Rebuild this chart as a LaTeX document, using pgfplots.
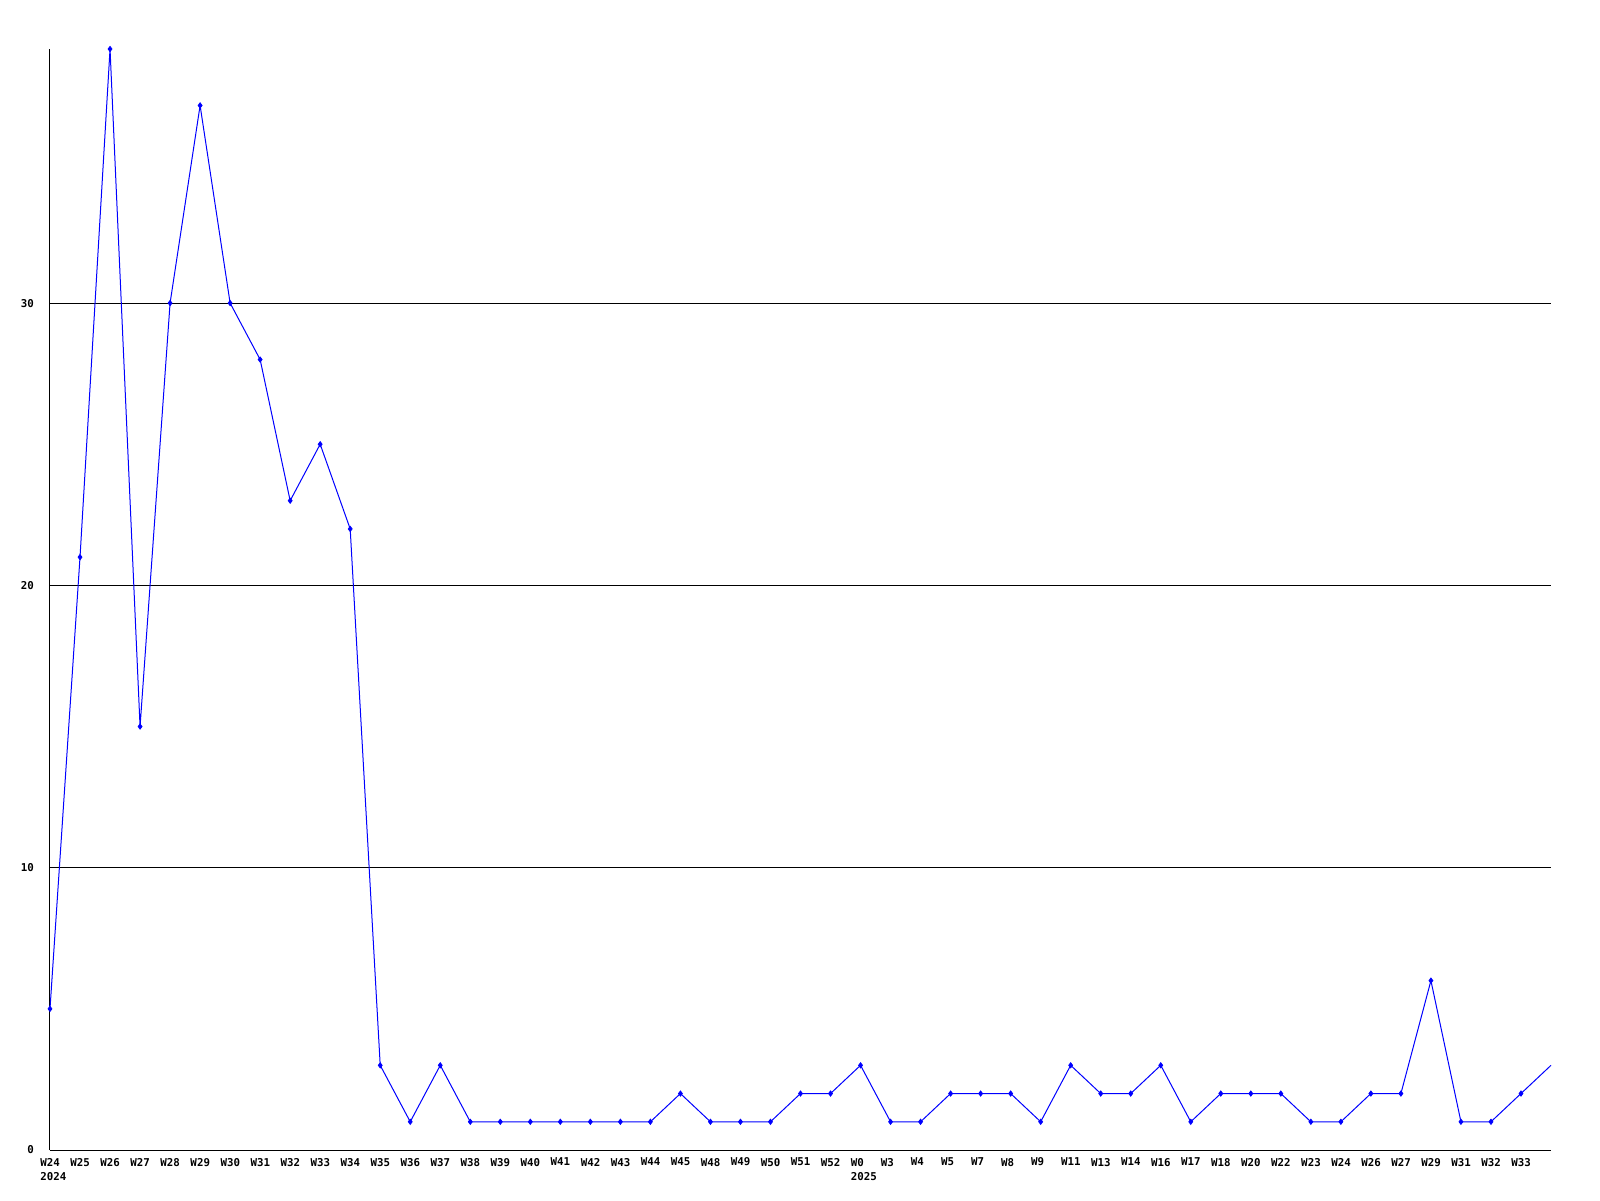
\documentclass[border=0pt]{standalone}
\usepackage{fontspec}
\setmonofont{DejaVu Sans Mono}
\usepackage{pgfplots}
\pgfplotsset{compat=1.18}
\begin{document}
\begin{tikzpicture}
\useasboundingbox (0,0) rectangle (800pt,600pt);
\begin{axis}[
  at={(25pt,25pt)}, anchor=south west,
  scale only axis, width=750.5pt, height=550.5pt,
  xmin=0, xmax=50, ymin=0, ymax=39,
  axis lines*=left,
  axis line style={black, line width=0.5pt, -},
  xtick={0,...,49},
  xticklabels={{W24\\\rlap{2024}},W25,W26,W27,W28,W29,W30,W31,W32,W33,W34,W35,W36,W37,W38,W39,W40,W41,W42,W43,W44,W45,W48,W49,W50,W51,W52,{W0\\\rlap{2025}},W3,W4,W5,W7,W8,W9,W11,W13,W14,W16,W17,W18,W20,W22,W23,W24,W26,W27,W29,W31,W32,W33},
  ytick={0,10,20,30},
  ymajorgrids,
  grid style={black, line width=0.5pt},
  major tick length=0pt,
  tick label style={font=\ttfamily\bfseries\fontsize{5.4}{7.4}\selectfont},
  xticklabel style={align=left, anchor=north west, xshift=-5pt, yshift=-3.8pt, inner sep=0pt},
  yticklabel style={anchor=east, xshift=-4.5pt},
  /pgf/number format/assume math mode=true,
  clip=false,
]
\addplot[color={rgb,255:red,0;green,0;blue,255}, line width=0.5pt, mark=none] coordinates {
(0,5)(1,21)(2,39)(3,15)(4,30)(5,37)(6,30)(7,28)(8,23)(9,25)(10,22)
(11,3)(12,1)(13,3)(14,1)(15,1)(16,1)(17,1)(18,1)(19,1)(20,1)
(21,2)(22,1)(23,1)(24,1)(25,2)(26,2)(27,3)(28,1)(29,1)(30,2)
(31,2)(32,2)(33,1)(34,3)(35,2)(36,2)(37,3)(38,1)(39,2)(40,2)
(41,2)(42,1)(43,1)(44,2)(45,2)(46,6)(47,1)(48,1)(49,2)(50,3)
};
\addplot[color={rgb,255:red,0;green,0;blue,255}, only marks, mark=diamond*, mark size=1.3pt] coordinates {
(0,5)(1,21)(2,39)(3,15)(4,30)(5,37)(6,30)(7,28)(8,23)(9,25)(10,22)
(11,3)(12,1)(13,3)(14,1)(15,1)(16,1)(17,1)(18,1)(19,1)(20,1)
(21,2)(22,1)(23,1)(24,1)(25,2)(26,2)(27,3)(28,1)(29,1)(30,2)
(31,2)(32,2)(33,1)(34,3)(35,2)(36,2)(37,3)(38,1)(39,2)(40,2)
(41,2)(42,1)(43,1)(44,2)(45,2)(46,6)(47,1)(48,1)(49,2)
};
\end{axis}
\end{tikzpicture}
\end{document}
